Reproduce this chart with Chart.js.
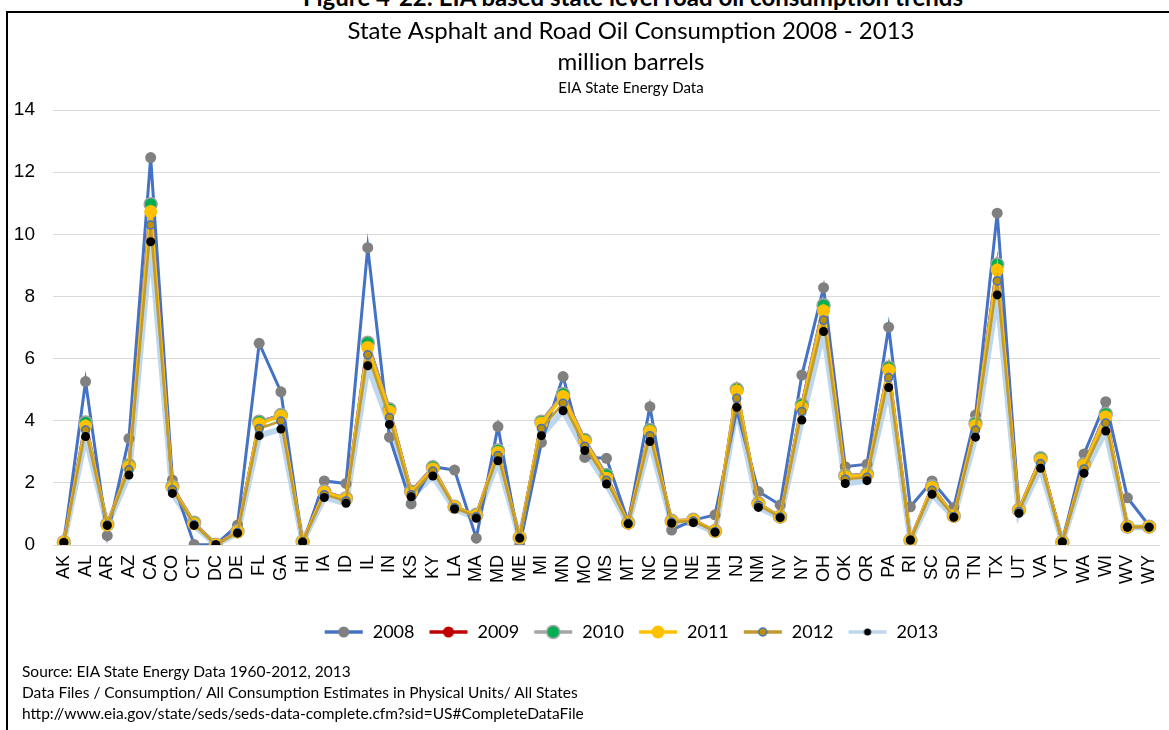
<!DOCTYPE html>
<html>
<head>
<meta charset="utf-8">
<script src="https://cdn.jsdelivr.net/npm/chart.js@4/dist/chart.umd.min.js"></script>
<style>
  html, body { margin: 0; padding: 0; background: #fff; overflow: hidden; width: 1169px; height: 730px; }
  #caption { position: absolute; left: 0; top: -18px; width: 1266px; text-align: center;
    font: bold 24px Lato, "Open Sans", sans-serif; line-height: normal; color: #000; white-space: nowrap; }
  #frame { position: absolute; left: 6px; top: 11px; width: 1200px; height: 760px;
    border-left: 2px solid #000; border-top: 2px solid #000; }
  #wrap { position: absolute; left: 0; top: 0; width: 1262px; height: 730px; }
  #notes { position: absolute; left: 22px; top: 661px; font: 15.5px Lato, "Open Sans", sans-serif;
    line-height: 21px; color: #000; white-space: nowrap; }
</style>
</head>
<body>
<div id="caption">Figure 4-22: EIA based state level road oil consumption trends</div>
<div id="frame"></div>
<div id="wrap"><canvas id="ChartContainer" width="1262" height="730"></canvas></div>
<div id="notes">
  Source: EIA State Energy Data 1960-2012, 2013<br>
  Data Files / Consumption/ All Consumption Estimates in Physical Units/ All States<br>
  http://www.eia.gov/state/seds/seds-data-complete.cfm?sid=US#CompleteDataFile
</div>
<script>
// million barrels
var states = ['AK','AL','AR','AZ','CA','CO','CT','DC','DE','FL','GA','HI','IA','ID','IL','IN','KS','KY','LA','MA',
  'MD','ME','MI','MN','MO','MS','MT','NC','ND','NE','NH','NJ','NM','NV','NY','OH','OK','OR','PA','RI',
  'SC','SD','TN','TX','UT','VA','VT','WA','WI','WV','WY'];
var yTicks = [0, 2, 4, 6, 8, 10, 12, 14];

var v2008 = [0.08,5.26,0.30,3.43,12.47,2.09,0.02,0.01,0.64,6.49,4.93,0.02,2.06,1.98,9.57,3.47,1.32,2.52,2.41,0.22,
  3.81,0.00,3.30,5.42,2.82,2.79,0.75,4.45,0.48,0.80,0.97,4.35,1.72,1.29,5.47,8.28,2.52,2.60,7.01,1.23,
  2.06,1.21,4.18,10.68,1.13,2.79,0.10,2.93,4.61,1.52,0.62];
var v2009 = [0.09,3.94,0.66,2.57,10.97,1.88,0.72,0.01,0.44,3.97,4.18,0.11,1.72,1.50,6.51,4.37,1.72,2.50,1.23,0.97,
  3.04,0.24,3.97,4.86,3.38,2.25,0.72,3.70,0.78,0.81,0.45,5.01,1.34,0.91,4.51,7.72,2.23,2.28,5.71,0.16,
  1.88,0.94,3.92,9.03,1.13,2.79,0.10,2.60,4.22,0.59,0.59];
var v2010 = [0.09,3.94,0.66,2.57,10.97,1.88,0.72,0.01,0.44,3.97,4.18,0.11,1.72,1.50,6.51,4.37,1.72,2.50,1.23,0.97,
  3.04,0.24,3.97,4.86,3.38,2.25,0.72,3.70,0.78,0.81,0.45,5.01,1.34,0.91,4.51,7.72,2.23,2.28,5.71,0.16,
  1.88,0.94,3.92,9.03,1.13,2.79,0.10,2.60,4.22,0.59,0.59];
var v2011 = [0.09,3.83,0.65,2.52,10.73,1.85,0.68,0.01,0.42,3.90,4.15,0.11,1.70,1.48,6.36,4.30,1.68,2.45,1.22,0.95,
  2.98,0.24,3.92,4.78,3.33,2.15,0.71,3.65,0.76,0.80,0.44,4.96,1.32,0.91,4.43,7.54,2.20,2.25,5.63,0.16,
  1.85,0.93,3.85,8.85,1.12,2.74,0.10,2.57,4.13,0.59,0.59];
var v2012 = [0.08,3.70,0.64,2.42,10.30,1.78,0.66,0.01,0.40,3.75,3.99,0.10,1.62,1.42,6.12,4.10,1.62,2.38,1.20,0.91,
  2.88,0.23,3.75,4.56,3.18,2.08,0.70,3.52,0.74,0.77,0.43,4.72,1.28,0.90,4.30,7.24,2.12,2.18,5.39,0.16,
  1.76,0.91,3.70,8.50,1.08,2.62,0.10,2.45,3.93,0.58,0.58];
var v2013 = [0.08,3.49,0.63,2.25,9.76,1.66,0.63,0.01,0.38,3.52,3.73,0.10,1.53,1.34,5.77,3.88,1.55,2.22,1.16,0.86,
  2.71,0.22,3.52,4.32,3.04,1.96,0.68,3.33,0.70,0.72,0.41,4.43,1.21,0.88,4.02,6.87,1.98,2.07,5.07,0.16,
  1.63,0.89,3.47,8.05,1.02,2.47,0.10,2.31,3.67,0.57,0.57];

var textFont = 'Lato, "Open Sans", sans-serif';
var tickFont = '"Liberation Sans", Arial, sans-serif';

// small line + marker picture used as the legend symbol
function legendIcon(lineColor, fill, border, radius) {
    var c = document.createElement('canvas');
    c.width = 40; c.height = 16;
    var ctx = c.getContext('2d');
    ctx.strokeStyle = lineColor;
    ctx.lineWidth = 3.5;
    ctx.beginPath(); ctx.moveTo(1, 8); ctx.lineTo(39, 8); ctx.stroke();
    ctx.beginPath(); ctx.arc(20, 8, radius, 0, Math.PI * 2);
    ctx.fillStyle = fill; ctx.fill();
    if (border) { ctx.lineWidth = 1.5; ctx.strokeStyle = border; ctx.stroke(); }
    return c;
}

function series(label, data, line, width, fill, border, radius, order) {
    return {
        label: label, data: data, yAxisID: 'y', order: order,
        borderColor: line, borderWidth: width, tension: 0,
        pointRadius: radius, pointHoverRadius: radius,
        pointBackgroundColor: fill, pointBorderColor: border || fill, pointBorderWidth: border ? 1.5 : 0,
        icon: legendIcon(line, fill, border, radius)
    };
}

var datasets = [
    // 2013 line sits under the other years, its markers on top
    { label: '2013', data: v2013, yAxisID: 'y', order: 10, borderColor: '#BDD7EE', borderWidth: 6,
      pointRadius: 0, pointHoverRadius: 0, legendSkip: true },
    series('2008', v2008, '#4472C4', 3, '#808080', null, 5.5, 6),
    series('2009', v2009, '#C00000', 3, '#C00000', null, 5.5, 5),
    series('2010', v2010, '#A5A5A5', 3, '#00B050', '#A5A5A5', 6.5, 4),
    series('2011', v2011, '#FFC000', 3, '#FFC000', null, 6.5, 3),
    series('2012', v2012, '#BF9B30', 2.5, '#BF9000', '#4472C4', 4, 2),
    { label: '2013', data: v2013, yAxisID: 'y', order: 1, showLine: false,
      pointRadius: 4.5, pointHoverRadius: 4.5, pointBackgroundColor: '#000', pointBorderColor: '#000',
      pointBorderWidth: 0, icon: legendIcon('#BDD7EE', '#000', null, 3.5) }
];

new Chart(document.getElementById('ChartContainer').getContext('2d'), {
    type: 'line',
    data: { labels: states, datasets: datasets },
    options: {
        responsive: false,
        animation: false,
        events: [],
        layout: { padding: { top: 0, left: 0, right: 0, bottom: 79 } },
        scales: {
            x: {
                offset: true,
                grid: { display: false, drawTicks: false },
                border: { display: false },
                ticks: { color: '#000', font: { family: tickFont, size: 18 }, padding: 10,
                    autoSkip: false, minRotation: 90, maxRotation: 90 },
                afterFit: s => { s.height = 64; }
            },
            y: {
                min: 0, max: 14,
                afterBuildTicks: s => { s.ticks = yTicks.map(v => ({ value: v })); },
                grid: { color: '#D9D9D9', lineWidth: 1, drawTicks: false },
                border: { display: false },
                ticks: { color: '#000', font: { family: tickFont, size: 19 }, padding: 18 },
                afterFit: s => { s.width = 53; }
            },
            yR: {
                position: 'right', display: true,
                grid: { display: false, drawTicks: false },
                border: { display: false },
                ticks: { display: false },
                afterFit: s => { s.width = 102; }
            }
        },
        plugins: {
            title: {
                display: true,
                text: ['State Asphalt and Road Oil Consumption 2008 - 2013', 'million barrels'],
                color: '#000',
                font: { family: textFont, size: 24, weight: 'normal', lineHeight: '31px' },
                padding: { top: 15.5, bottom: 0.5 }
            },
            subtitle: {
                display: true,
                text: 'EIA State Energy Data',
                color: '#000',
                font: { family: textFont, size: 15, lineHeight: '20px' },
                padding: { top: 0, bottom: 12 }
            },
            legend: {
                position: 'bottom',
                labels: {
                    usePointStyle: true,
                    pointStyleWidth: 40,
                    padding: 14,
                    color: '#000',
                    font: { family: textFont, size: 18 },
                    generateLabels: chart => chart.data.datasets
                        .map((ds, i) => ({ text: ds.label, datasetIndex: i, pointStyle: ds.icon,
                            fillStyle: '#000', strokeStyle: '#000', lineWidth: 0, hidden: false, skip: ds.legendSkip }))
                        .filter(item => !item.skip)
                }
            },
            tooltip: { enabled: false }
        }
    }
});
</script>
</body>
</html>
